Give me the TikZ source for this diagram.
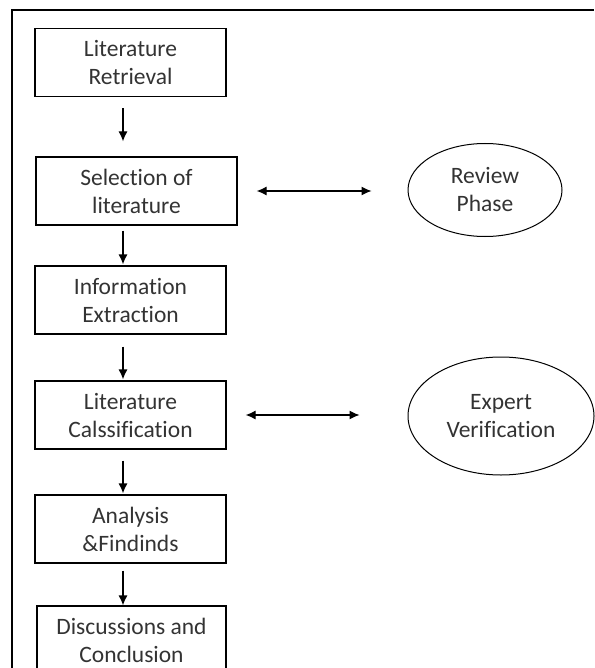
\documentclass[tikz,border=0pt]{standalone}
\usepackage{fontspec}
\setmainfont{Carlito}[Ligatures=NoCommon]
\usetikzlibrary{arrows.meta,shapes.geometric}

\tikzstyle{stepbox}=[draw=black,line width=1.2pt,rectangle,minimum height=68pt,inner sep=0pt,align=center,text=black!80,font=\fontsize{23.5}{28}\selectfont]
\tikzstyle{phase}=[draw=black,line width=1pt,ellipse,inner sep=0pt,align=center,text=black!80,font=\fontsize{23.5}{28}\selectfont]
\tikzstyle{flow}=[draw,line width=1.2pt,-{Latex[length=10pt,width=9pt]}]
\tikzstyle{link}=[draw,line width=1.2pt,{Latex[length=10pt,width=9pt]}-{Latex[length=10pt,width=9pt]}]

\begin{document}
\begin{tikzpicture}[x=1pt,y=-1pt]
                  \useasboundingbox (0,0) rectangle (594,668);
                  % Frame round the chart
                  \draw[line width=1.8pt] (12,668) -- (12,10) -- (594,10);
                  % First we draw the steps
                  \foreach \pos/\name/\bw/\la in {{(130.5,62.5)/ret/191/Literature\\Retrieval},
                  {(136.5,191)/sel/201/Selection of\\literature},
                  {(130.5,300)/ext/191/Information\\Extraction},
                  {(130.5,415)/cls/191/Literature\\Calssification},
                  {(130.5,529)/ana/191/Analysis\\\&Findinds},
                  {(131.5,640)/dis/189/Discussions and\\Conclusion}}
                        \node[stepbox,minimum width=\bw pt] (\name) at \pos {\la};
                  % Then the two side phases
                  \node[phase,minimum width=154pt,minimum height=93pt] (rev) at (485,190) {Review\\Phase};
                  \node[phase,minimum width=186pt,minimum height=118pt] (exp) at (501,416) {Expert\\Verification};
                  % Connect steps with arrows
                  \coordinate (axis) at (123,0);
                  \foreach \source/\dest/\sa/\sb in {ret/sel/11/15,sel/ext/5/1,ext/cls/12/1,cls/ana/11/1,ana/dis/7/0}
                  \path[flow,shorten <=\sa pt,shorten >=\sb pt] (\source.south -| axis) -- (\dest.north -| axis);
                  \path[link,shorten <=19pt,shorten >=36pt] (sel.east) -- (sel.east -| rev.west);
                  \path[link,shorten <=19pt,shorten >=48pt] (cls.east) -- (cls.east -| exp.west);
            \end{tikzpicture}
\end{document}
